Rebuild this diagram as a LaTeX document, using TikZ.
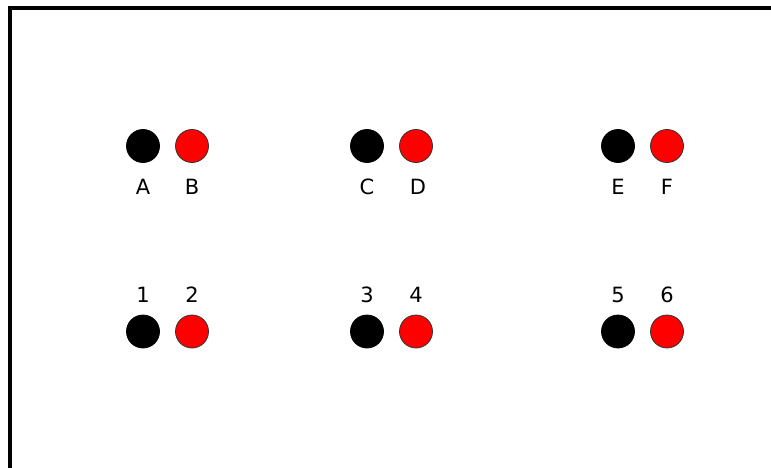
\documentclass[tikz,border=0pt]{standalone}
\usepackage{fontspec}
\setmainfont{DejaVu Sans}
\usepackage{tikz}
\usetikzlibrary{positioning}
\definecolor{pinred}{HTML}{FF0000}
\tikzset{
  pinB/.style={circle, fill=black, draw=black, line width=0.8pt,
               minimum size=33pt, inner sep=0pt},
  pinR/.style={circle, fill=pinred, draw=black!80, line width=0.8pt,
               minimum size=33pt, inner sep=0pt},
  lbl/.style={inner sep=0pt, font=\fontsize{21}{24}\selectfont},
  frame/.style={line width=3.2pt, draw=black},
}

\begin{document}
\begin{tikzpicture}[x=1pt, y=-1pt]
  \useasboundingbox (0,0) rectangle (771,468);
  \draw [frame] (775,8) -- (10,8) -- (10,472);

  % top row
  \node [pinB] (a) at (143,146) {};
  \node [pinR] (b) at (192,146) {};
  \node [pinB] (c) at (367,146) {};
  \node [pinR] (d) at (416,146) {};
  \node [pinB] (e) at (618,146) {};
  \node [pinR] (f) at (667,146) {};

  \node [lbl, below=16pt of a] (la) {A};
  \node [lbl, below=16pt of b] (lb) {B};
  \node [lbl, below=16pt of c] (lc) {C};
  \node [lbl, below=16pt of d, xshift=2pt] (ld) {D};
  \node [lbl, below=16pt of e] (le) {E};
  \node [lbl, below=16pt of f] (lf) {F};

  % bottom row
  \node [pinB] (p1) at (143,331.5) {};
  \node [pinR] (p2) at (192,331.5) {};
  \node [pinB] (p3) at (367,331.5) {};
  \node [pinR] (p4) at (416,331.5) {};
  \node [pinB] (p5) at (618,331.5) {};
  \node [pinR] (p6) at (667,331.5) {};

  \node [lbl, above=11.5pt of p1] (l1) {1};
  \node [lbl, above=11.5pt of p2] (l2) {2};
  \node [lbl, above=11.5pt of p3] (l3) {3};
  \node [lbl, above=11.5pt of p4] (l4) {4};
  \node [lbl, above=11.5pt of p5] (l5) {5};
  \node [lbl, above=11.5pt of p6] (l6) {6};
\end{tikzpicture}
\end{document}
